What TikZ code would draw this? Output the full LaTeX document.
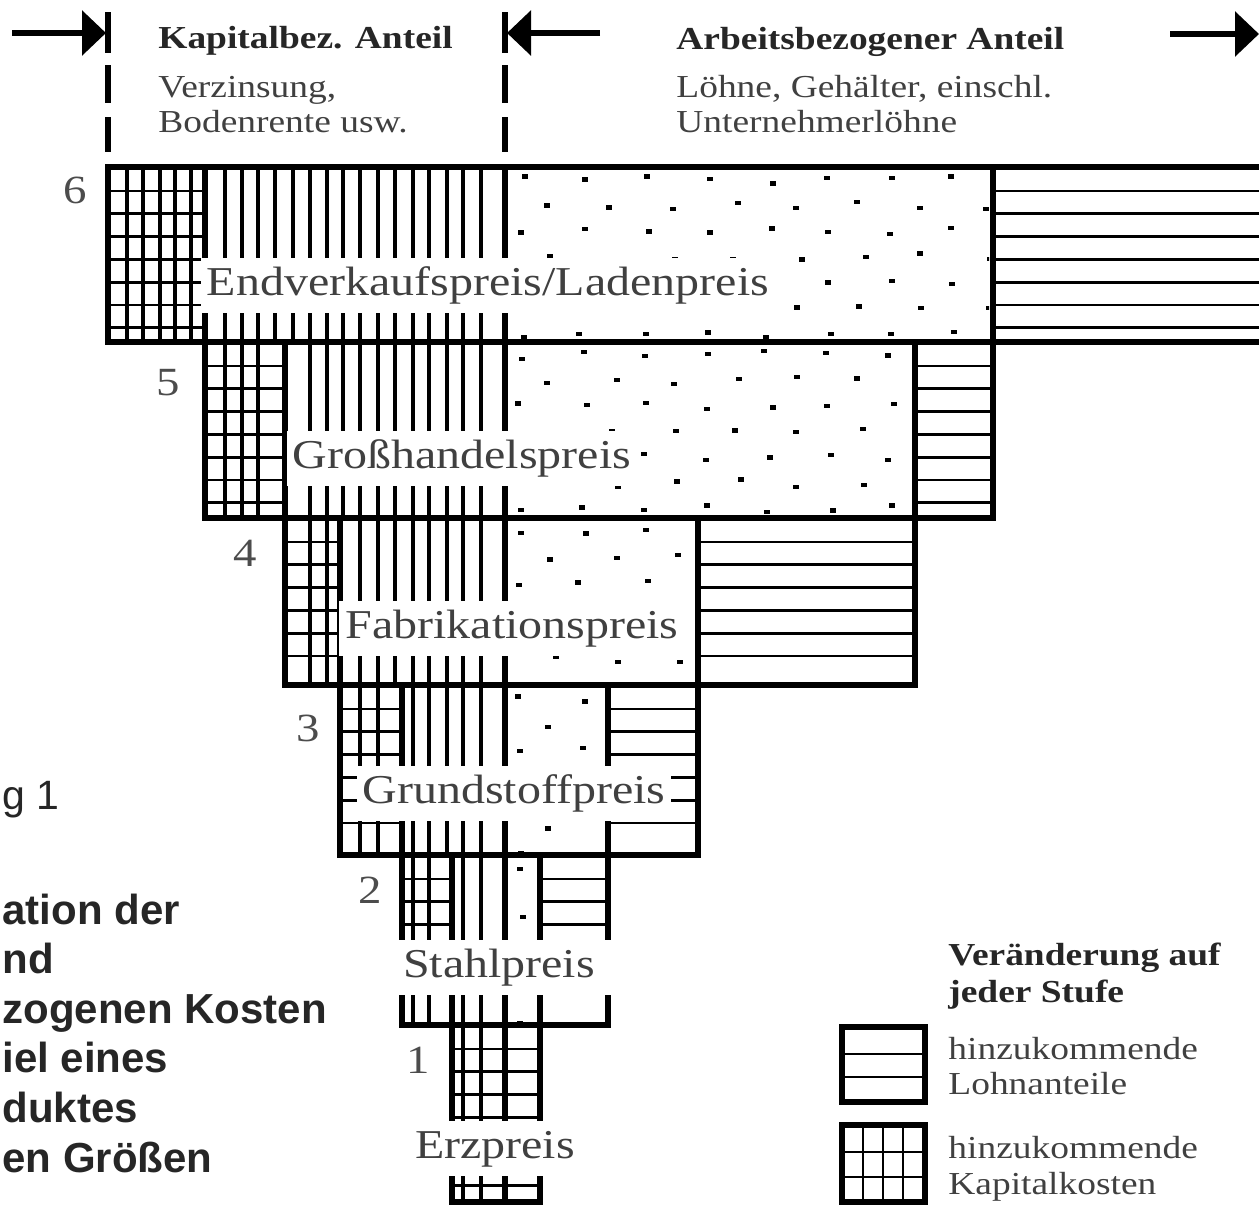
\documentclass[tikz,border=0pt]{standalone}
\usepackage{fontspec}
\setmainfont{Liberation Serif}
\newfontfamily\widefont[FakeStretch=1.17]{Liberation Serif}
\newfontfamily\captionfont{Liberation Sans}
\usetikzlibrary{arrows.meta}

\tikzset{
  border/.style={line width=3pt},
  hatch/.style={line width=1.4pt},
  vhatch/.style={line width=1.8pt},
  pricelabel/.style={fill=white, anchor=base, inner xsep=3pt, inner ysep=4.5pt,
    text height=14pt, text depth=4.5pt, text=black!75,
    font=\widefont\fontsize{20.5}{24}\selectfont},
  stage/.style={text=black!70, font=\widefont\fontsize{20}{24}\selectfont},
  headbold/.style={anchor=base west, inner sep=0pt, text=black!85,
    font=\widefont\bfseries\fontsize{16}{19}\selectfont},
  headtext/.style={anchor=base west, inner sep=0pt, text=black!75,
    font=\widefont\fontsize{16}{19}\selectfont},
  capline/.style={anchor=base west, inner sep=0pt, text=black!85,
    font=\captionfont\bfseries\fontsize{21}{25}\selectfont},
  marker/.style={line width=3pt, -{Triangle[length=12pt,width=22pt]}},
  divider/.style={line width=3pt,
    dash pattern=on 20.5pt off 6pt on 19pt off 7pt on 17.5pt off 20pt},
}

\begin{document}
\begin{tikzpicture}[x=0.5pt,y=-0.5pt]
  \useasboundingbox (0,0) rectangle (1259,1205);
  \pgfmathsetseed{4711}

  % stage / top / bottom / left / grid end / dots end / right / last hatch line
  \foreach \k/\yt/\yb/\xa/\xg/\xd/\xr/\nh in {
      6/167/342/108/205/993/1270/6,
      5/342/518/205/285/915/993/6,
      4/518/685/285/340/698/915/5,
      3/685/855/340/402/608/698/5,
      2/855/1025/402/452/540/608/5,
      1/1025/1202/452/505/505/540/6}{
    % horizontal hatching (grid part and wage part)
    \foreach \j in {0,...,\nh}{
      \draw[hatch] (\xa,\yt+24+22.8*\j) -- (\xg,\yt+24+22.8*\j);
      \draw[hatch] (\xd,\yt+24+22.8*\j) -- (\xr,\yt+24+22.8*\j);
    }
    % vertical hatching (capital part)
    \foreach \x in {127,143,160,175,191,208,225,242,258,275,293,310,327,
                    343,360,378,395,413,429,447,463,481}{
      \pgfmathtruncatemacro\ok{(\x>\xa+10.5)*(\x<494.5)*(abs(\x-\xg)>10.5)}
      \ifnum\ok=1 \draw[vhatch] (\x,\yt) -- (\x,\yb); \fi
    }
    % dotted part
    \ifnum\xd>505
      \begin{scope}
        \clip (509,\yt+4) rectangle (\xd-4,\yb-4);
        \foreach \i in {0,...,15}{
          \foreach \j in {0,...,6}{
            \pgfmathtruncatemacro\odd{mod(\i+\j,2)}
            \ifnum\odd=0
              \pgfmathsetmacro\dx{520.5+31*\i+5*rand}
              \pgfmathsetmacro\dy{\yt+13+25.7*\j+4*rand}
              \fill (\dx-3,\dy-2.2) rectangle (\dx+3,\dy+2.2);
            \fi
          }
        }
      \end{scope}
    \fi
    % frame
    \draw[border] (\xa,\yt) rectangle (\xr,\yb);
    \draw[border] (\xg,\yt) -- (\xg,\yb) (505,\yt) -- (505,\yb) (\xd,\yt) -- (\xd,\yb);
  }

  % price labels
  \node[pricelabel] (lab6) at (488,295) {Endverkaufspreis/Ladenpreis};
  \node[pricelabel] (lab5) at (462,468) {Großhandelspreis};
  \node[pricelabel] (lab4) at (512,638) {Fabrikationspreis};
  \node[pricelabel] (lab3) at (514,803) {Grundstoffpreis};
  \node[pricelabel, minimum width=115pt] (lab2) at (499,977) {Stahlpreis};
  \node[pricelabel] (lab1) at (495,1158) {Erzpreis};

  % stage numbers
  \node[stage] (st6) at (75,190) {6};
  \node[stage] (st5) at (168,383) {5};
  \node[stage] (st4) at (245,553) {4};
  \node[stage] (st3) at (308,728) {3};
  \node[stage] (st2) at (370,890) {2};
  \node[stage] (st1) at (418,1060) {1};

  % head
  \node[headbold] (kap) at (158,48) {Kapitalbez. Anteil};
  \node[headtext] (kap1) at (158,97) {Verzinsung,};
  \node[headtext] (kap2) at (158,132) {Bodenrente usw.};
  \node[headbold] (arb) at (676,49) {Arbeitsbezogener Anteil};
  \node[headtext] (arb1) at (676,97) {Löhne, Gehälter, einschl.};
  \node[headtext] (arb2) at (676,132) {Unternehmerlöhne};

  \coordinate (divAtop) at (108,12);
  \coordinate (divAbot) at (108,155);
  \coordinate (divBtop) at (505,12);
  \coordinate (divBbot) at (505,155);
  \draw[divider] (divAtop) -- (divAbot);
  \draw[divider] (divBtop) -- (divBbot);

  \coordinate (kapfrom) at (12,33);
  \coordinate (kapto) at (106,33);
  \coordinate (arbfrom) at (600,33);
  \coordinate (arbto) at (507,33);
  \coordinate (endfrom) at (1170,34);
  \coordinate (endto) at (1259,34);
  \draw[marker] (kapfrom) -- (kapto);
  \draw[marker] (arbfrom) -- (arbto);
  \draw[marker] (endfrom) -- (endto);

  % key
  \node[headbold] (key1) at (948,965) {Veränderung auf};
  \node[headbold] (key2) at (948,1002) {jeder Stufe};
  \draw[hatch] (842,1054) -- (925,1054) (842,1077) -- (925,1077);
  \draw[border] (842,1027) rectangle (925,1102);
  \node[headtext] (lohn1) at (948,1059) {hinzukommende};
  \node[headtext] (lohn2) at (948,1094) {Lohnanteile};
  \draw[hatch] (863,1125) -- (863,1202) (883,1125) -- (883,1202)
               (903,1125) -- (903,1202)
               (842,1152) -- (925,1152) (842,1177) -- (925,1177);
  \draw[border] (842,1125) rectangle (925,1202);
  \node[headtext] (kapk1) at (948,1158) {hinzukommende};
  \node[headtext] (kapk2) at (948,1194) {Kapitalkosten};

  % caption at the left edge
  \node[capline, font=\captionfont\fontsize{20.5}{25}\selectfont] (cap0) at (2,809) {g 1};
  \node[capline] (cap1) at (2,924) {ation der};
  \node[capline] (cap2) at (2,973) {nd};
  \node[capline] (cap3) at (2,1023) {zogenen Kosten};
  \node[capline] (cap4) at (2,1072) {iel eines};
  \node[capline] (cap5) at (2,1122) {duktes};
  \node[capline] (cap6) at (2,1172) {en Größen};
\end{tikzpicture}
\end{document}
